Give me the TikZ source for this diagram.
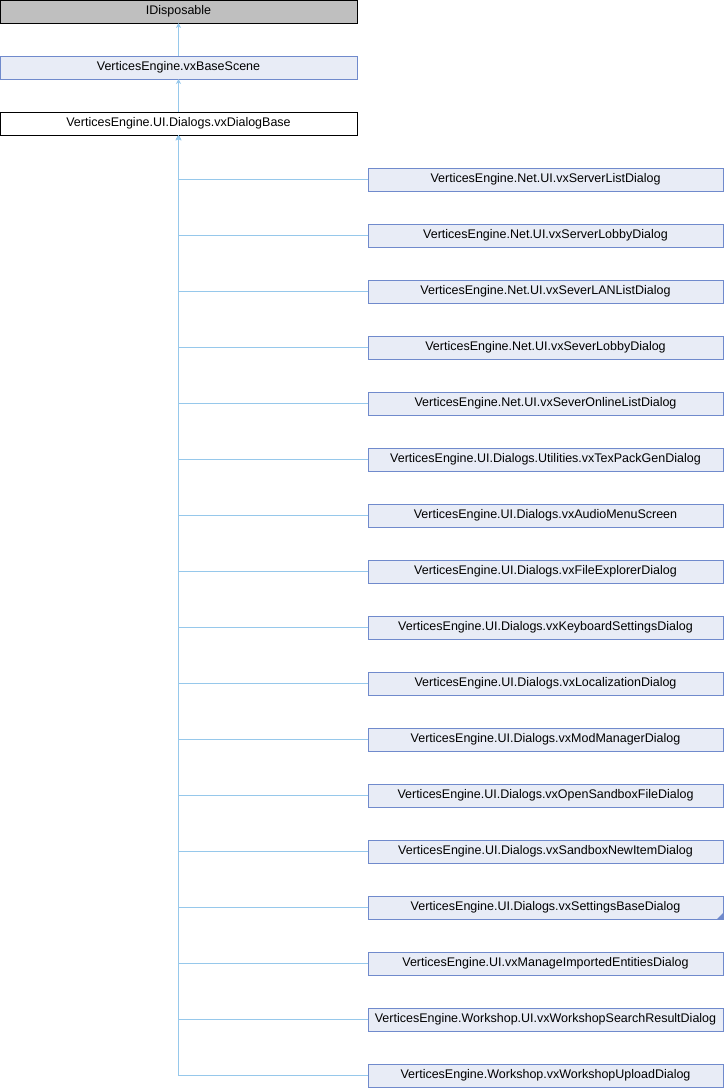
\documentclass[tikz,border=0pt]{standalone}
\usepackage{fontspec}
\setmainfont{Liberation Sans}
\usetikzlibrary{positioning}
\usetikzlibrary{arrows.meta}
\definecolor{boxfill}{RGB}{232,236,246}
\definecolor{boxline}{RGB}{112,138,204}
\definecolor{greyfill}{RGB}{191,191,191}
\definecolor{edgeblue}{RGB}{150,200,235}
\tikzset{
	>={Stealth[length=5pt,width=5pt]},
	klasse/.style={
		rectangle,
		fill=boxfill,
		draw=boxline, line width=0.9pt,
		inner sep=0pt, outer sep=0pt,
		minimum width=355pt,
		minimum height=23pt,
		text centered,
		font=\fontsize{12.5}{14}\selectfont},
	wurzel/.style={klasse, minimum width=357pt},
	extern/.style={wurzel, fill=greyfill, draw=black},
	aktuell/.style={wurzel, fill=white, draw=black},
	erbe/.style={draw=edgeblue, line width=0.9pt, ->},
}
\begin{document}
\begin{tikzpicture}
	[node distance=33pt]
	\useasboundingbox (0,0) rectangle (724pt,-1088pt);
	\node[extern] (idisp) at (178.5pt,-11.5pt) {IDisposable};
	\node[wurzel, below=of idisp] (scene) {VerticesEngine.vxBaseScene};
	\node[aktuell, below=of scene] (dbase) {VerticesEngine.UI.Dialogs.vxDialogBase};
	% abgeleitete Klassen
	\node[klasse] (srvlist) at (545.5pt,-179.5pt) {VerticesEngine.Net.UI.vxServerListDialog};
	\node[klasse, below=of srvlist] (srvlobby) {VerticesEngine.Net.UI.vxServerLobbyDialog};
	\node[klasse, below=of srvlobby] (lanlist) {VerticesEngine.Net.UI.vxSeverLANListDialog};
	\node[klasse, below=of lanlist] (svlobby) {VerticesEngine.Net.UI.vxSeverLobbyDialog};
	\node[klasse, below=of svlobby] (onlist) {VerticesEngine.Net.UI.vxSeverOnlineListDialog};
	\node[klasse, below=of onlist] (texpack) {VerticesEngine.UI.Dialogs.Utilities.vxTexPackGenDialog};
	\node[klasse, below=of texpack] (audio) {VerticesEngine.UI.Dialogs.vxAudioMenuScreen};
	\node[klasse, below=of audio] (fileexp) {VerticesEngine.UI.Dialogs.vxFileExplorerDialog};
	\node[klasse, below=of fileexp] (keyb) {VerticesEngine.UI.Dialogs.vxKeyboardSettingsDialog};
	\node[klasse, below=of keyb] (local) {VerticesEngine.UI.Dialogs.vxLocalizationDialog};
	\node[klasse, below=of local] (modman) {VerticesEngine.UI.Dialogs.vxModManagerDialog};
	\node[klasse, below=of modman] (sandopen) {VerticesEngine.UI.Dialogs.vxOpenSandboxFileDialog};
	\node[klasse, below=of sandopen] (sandnew) {VerticesEngine.UI.Dialogs.vxSandboxNewItemDialog};
	\node[klasse, below=of sandnew] (settings) {VerticesEngine.UI.Dialogs.vxSettingsBaseDialog};
	\node[klasse, below=of settings] (imported) {VerticesEngine.UI.vxManageImportedEntitiesDialog};
	\node[klasse, below=of imported] (wssearch) {VerticesEngine.Workshop.UI.vxWorkshopSearchResultDialog};
	\node[klasse, below=of wssearch] (wsupload) {VerticesEngine.Workshop.vxWorkshopUploadDialog};
	\fill[boxline] (settings.south east) -- ++(-6pt,0) -- ++(6pt,6pt) -- cycle;
	% Vererbung
	\draw[erbe] (scene) -- (idisp);
	\draw[erbe] (dbase) -- (scene);
	\foreach \kind in {srvlist,srvlobby,lanlist,svlobby,onlist,texpack,audio,fileexp,keyb,local,modman,sandopen,sandnew,settings,imported,wssearch,wsupload}
		\draw[erbe] (\kind.west) -| (dbase);
\end{tikzpicture}
\end{document}
